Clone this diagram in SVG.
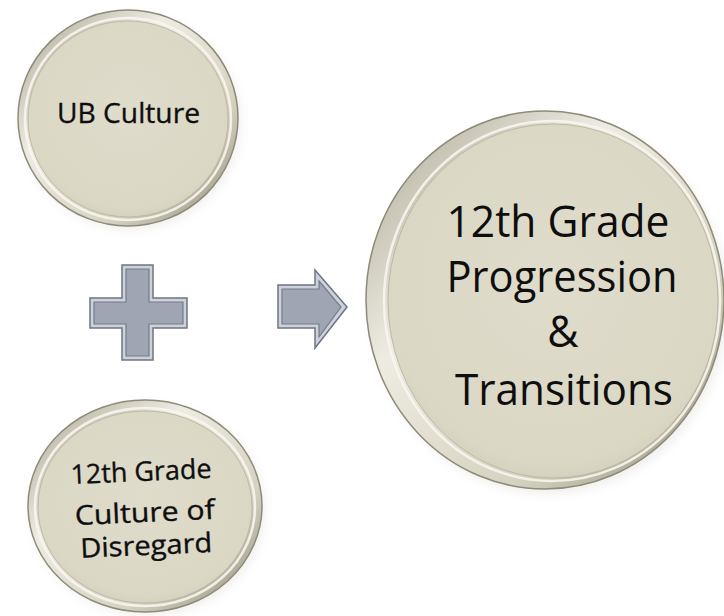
<svg xmlns="http://www.w3.org/2000/svg" width="724" height="616" viewBox="0 0 724 616">
<defs>
<style>
.rim{fill:url(#rimGrad);stroke:#8e8a78;stroke-width:1.5}
.hl{fill:none;stroke:#f7f5ee;stroke-width:2.5;opacity:.9}
.face{fill:url(#faceGrad);stroke:#bdb9a5;stroke-width:1}
.shadow{fill:#8a877a;opacity:.12;filter:url(#blur)}
.t{font-family:"Open Sans","Noto Sans","Liberation Sans",sans-serif;fill:#0e0e0e;text-anchor:middle}
.small{stroke:#0e0e0e;stroke-width:0.35}
.symOuter{fill:#cdd1dc;stroke:#6f7481;stroke-width:1.5;stroke-linejoin:miter}
.symInner{fill:#a0a5b3;stroke:#767b89;stroke-width:1.2}
</style>
<linearGradient id="rimGrad" x1="0" y1="0" x2="1" y2="1">
<stop offset="0" stop-color="#a9a592"/>
<stop offset="0.35" stop-color="#eeece2"/>
<stop offset="0.7" stop-color="#d6d2c0"/>
<stop offset="1" stop-color="#8f8b78"/>
</linearGradient>
<radialGradient id="faceGrad" cx="0.5" cy="0.45" r="0.6">
<stop offset="0" stop-color="#dfdccb"/>
<stop offset="0.85" stop-color="#dbd7c5"/>
<stop offset="1" stop-color="#cfcbb7"/>
</radialGradient>
<filter id="blur" x="-20%" y="-20%" width="140%" height="140%"><feGaussianBlur stdDeviation="5"/></filter>
</defs>
<rect width="724" height="616" fill="#ffffff"/>

<g id="node-ub-culture">
<ellipse class="shadow" cx="131" cy="122" rx="110" ry="108"/>
<ellipse class="rim" cx="128" cy="118" rx="110" ry="108"/>
<ellipse class="hl" cx="128" cy="119" rx="103" ry="101"/>
<ellipse class="face" cx="128" cy="119" rx="100" ry="98"/>
<text class="t small" x="128.5" y="123" font-size="28" textLength="143" lengthAdjust="spacingAndGlyphs">UB Culture</text>
</g>

<g id="node-12th-culture">
<ellipse class="shadow" cx="148" cy="510" rx="117" ry="106"/>
<ellipse class="rim" cx="145" cy="506" rx="117" ry="106"/>
<ellipse class="hl" cx="145" cy="507" rx="110" ry="99"/>
<ellipse class="face" cx="145" cy="507" rx="107" ry="96"/>
<g transform="rotate(-2.5 143 518)">
<text class="t small" x="143" y="481" font-size="27" textLength="141" lengthAdjust="spacingAndGlyphs">12th Grade</text>
<text class="t small" x="145" y="522" font-size="27" textLength="140" lengthAdjust="spacingAndGlyphs">Culture of</text>
<text class="t small" x="145" y="555" font-size="27" textLength="132" lengthAdjust="spacingAndGlyphs">Disregard</text>
</g>
</g>

<g id="node-12th-progression">
<ellipse class="shadow" cx="549" cy="305" rx="179" ry="189"/>
<ellipse class="rim" cx="545" cy="300" rx="179" ry="189"/>
<ellipse class="hl" cx="552" cy="301" rx="168" ry="180"/>
<ellipse class="face" cx="553" cy="301" rx="165" ry="177"/>
<text class="t" x="558" y="237" font-size="44" textLength="223" lengthAdjust="spacingAndGlyphs">12th Grade</text>
<text class="t" x="562" y="292" font-size="44" textLength="231" lengthAdjust="spacingAndGlyphs">Progression</text>
<text class="t" x="563" y="347" font-size="43">&amp;</text>
<text class="t" x="564" y="405" font-size="44" textLength="218" lengthAdjust="spacingAndGlyphs">Transitions</text>
</g>

<g id="connectors">
<g id="plus">
<polygon class="symOuter" points="122,265 153,265 153,298 187,298 187,328 153,328 153,360 122,360 122,328 90,328 90,298 122,298"/>
<polygon class="symInner" points="126,269 149,269 149,302 183,302 183,324 149,324 149,356 126,356 126,324 94,324 94,302 126,302"/>
</g>
<g id="arrow">
<polygon class="symOuter" points="278,285 315,285 315,270 347,307 315,348 315,328 278,328"/>
<polygon class="symInner" points="282,289 319,289 319,281 341,307 319,337 319,324 282,324"/>
</g>
</g>
</svg>
